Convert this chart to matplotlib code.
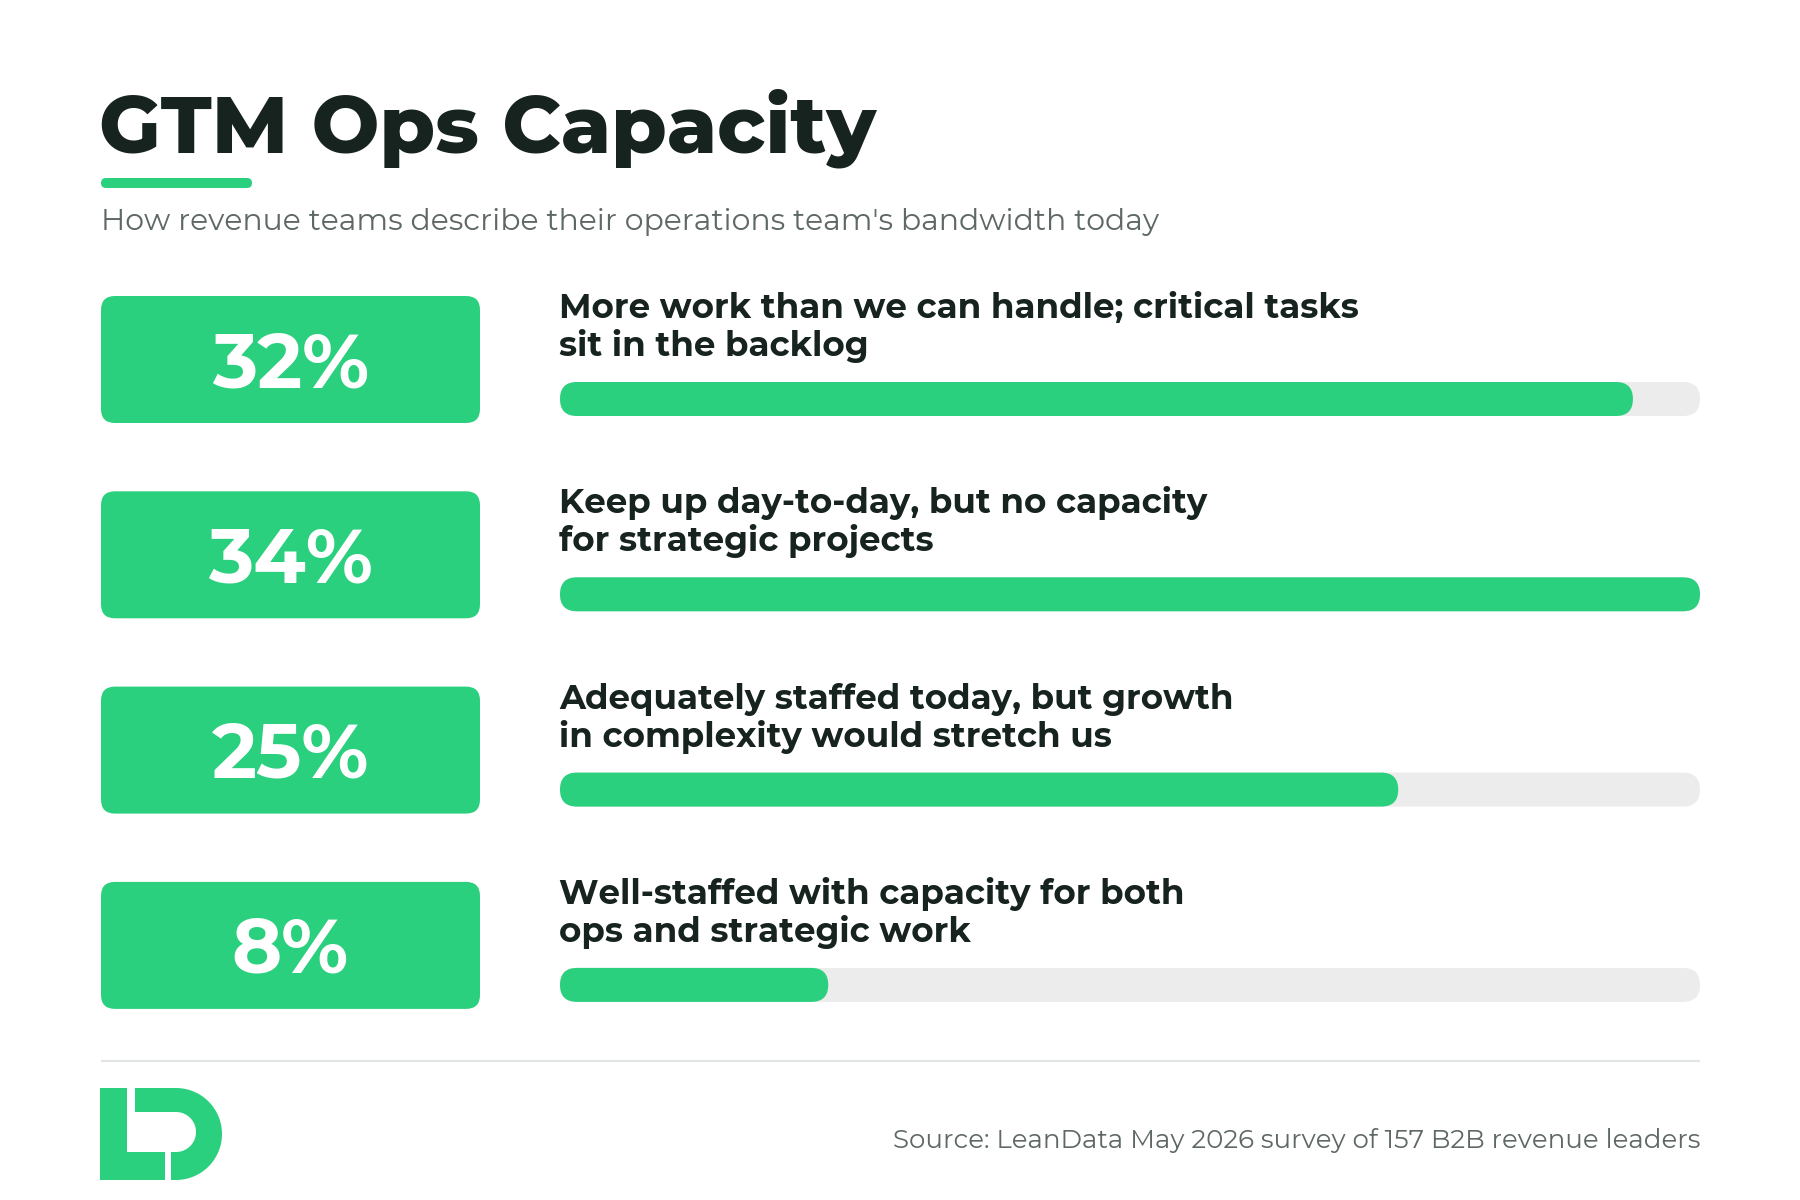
import matplotlib
matplotlib.use("Agg")
import matplotlib.pyplot as plt
from matplotlib import font_manager as fm
from matplotlib.font_manager import FontProperties
from matplotlib.patches import FancyBboxPatch, Rectangle
import numpy as np

# ---------------- data ----------------
title = "GTM Ops Capacity"
subtitle = "How revenue teams describe their operations team's bandwidth today"
categories = [
    ["More work than we can handle; critical tasks", "sit in the backlog"],
    ["Keep up day-to-day, but no capacity", "for strategic projects"],
    ["Adequately staffed today, but growth", "in complexity would stretch us"],
    ["Well-staffed with capacity for both", "ops and strategic work"],
]
values = [32, 34, 25, 8]
value_labels = ["32%", "34%", "25%", "8%"]
source = "Source: LeanData May 2026 survey of 157 B2B revenue leaders"

# ---------------- style ----------------
GREEN = "#2bd07f"
TRACK = "#ebeceb"
DARK = "#17231e"
GRAY = "#5e6864"

_cache = {}


def mfont(weight, size):
    """Montserrat at a given weight (instanced from the variable font)."""
    path = _cache.get(weight)
    if path is None:
        try:
            from fontTools.ttLib import TTFont
            from fontTools.varLib import instancer
            src = None
            for f in fm.fontManager.ttflist:
                if f.name == "Montserrat" and f.style == "normal":
                    src = f.fname
                    break
            if src is None:
                raise RuntimeError("no Montserrat")
            vf = TTFont(src)
            inst = instancer.instantiateVariableFont(vf, {"wght": weight})
            path = f"Montserrat-w{weight}.ttf"
            inst.save(path)
        except Exception:
            path = ""
        _cache[weight] = path
    if path:
        return FontProperties(fname=path, size=size)
    return FontProperties(family=["Poppins", "DejaVu Sans"], weight=weight, size=size)


W, H = 1800, 1200
fig = plt.figure(figsize=(18, 12), dpi=100)
ax = fig.add_axes([0, 0, 1, 1])
ax.set_xlim(0, W)
ax.set_ylim(H, 0)
ax.axis("off")

LEFT = 101
RIGHT = 1700

# title + accent + subtitle
ax.text(LEFT - 2, 152, title, fontproperties=mfont(800, 57.7), color=DARK,
        va="baseline", ha="left")
ax.add_patch(FancyBboxPatch((LEFT, 178), 151, 10,
                            boxstyle="round,pad=0,rounding_size=5",
                            fc=GREEN, ec="none"))
ax.text(LEFT, 230, subtitle, fontproperties=mfont(400, 21.5), color=GRAY,
        va="baseline", ha="left")

# rows
row_top0 = 296
row_step = 195.3
box_w, box_h = 379, 127
track_x0, track_x1 = 560, 1700
track_h = 34
vmax = max(values)

for i, (lines, v, lab) in enumerate(zip(categories, values, value_labels)):
    top = row_top0 + i * row_step
    ax.add_patch(FancyBboxPatch((LEFT + 7, top + 7), box_w - 14, box_h - 14,
                                boxstyle="round,pad=7,rounding_size=14",
                                fc=GREEN, ec="none"))
    ax.text(LEFT + box_w / 2, top + 91, lab, fontproperties=mfont(700, 55),
            color="white", ha="center", va="baseline")
    for j, line in enumerate(lines):
        ax.text(track_x0 - 1, top + 22 + 38 * j, line,
                fontproperties=mfont(700, 24.5), color=DARK,
                ha="left", va="baseline")
    ty = top + 86
    r = track_h / 2
    ax.add_patch(FancyBboxPatch((track_x0 + r, ty + r), (track_x1 - track_x0) - 2 * r, 0,
                                boxstyle=f"round,pad={r},rounding_size={r}",
                                fc=TRACK, ec="none"))
    fill_w = (track_x1 - track_x0) * v / vmax
    ax.add_patch(FancyBboxPatch((track_x0 + r, ty + r), max(fill_w - 2 * r, 0.01), 0,
                                boxstyle=f"round,pad={r},rounding_size={r}",
                                fc=GREEN, ec="none"))

# separator
ax.plot([LEFT, RIGHT], [1061, 1061], color="#e3e5e4", lw=1.6, solid_capstyle="butt")


# logo (LD)
def d_shape(x0, y0, x1, y1):
    h = y1 - y0
    rr = h / 2
    xs = x1 - rr
    th = np.linspace(-np.pi / 2, np.pi / 2, 60)
    pts = [(x0, y0), (xs, y0)]
    pts += [(xs + rr * np.cos(t), y0 + rr + rr * np.sin(t)) for t in th]
    pts += [(xs, y1), (x0, y1), (x0, y0)]
    return pts


ax.add_patch(plt.Polygon(d_shape(135, 1088, 222, 1180), closed=True, fc=GREEN, ec="none"))
ax.add_patch(plt.Polygon(d_shape(125, 1112, 196, 1152), closed=True, fc="white", ec="none"))
ax.add_patch(Rectangle((165, 1150), 5.5, 32, fc="white", ec="none"))
ax.add_patch(Rectangle((100, 1088), 27, 92, fc=GREEN, ec="none"))
ax.add_patch(Rectangle((100, 1152), 65, 28, fc=GREEN, ec="none"))

ax.text(RIGHT, 1148, source, fontproperties=mfont(400, 18.75), color=GRAY,
        ha="right", va="baseline")

fig.savefig("out.png", dpi=100, facecolor="white")
